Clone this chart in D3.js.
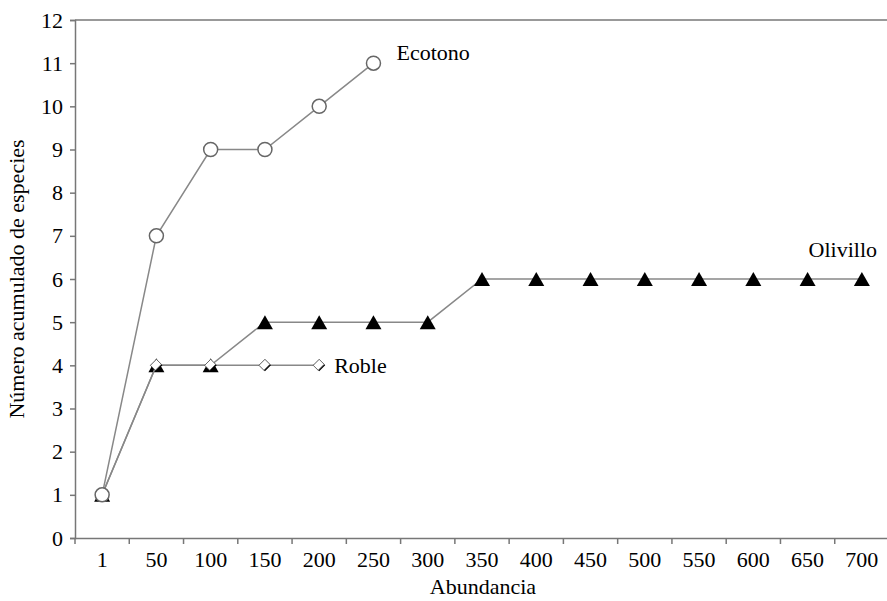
<!DOCTYPE html>
<html>
<head>
<meta charset="utf-8">
<script src="https://cdn.jsdelivr.net/npm/d3@7"></script>
<style>
body{margin:0;background:#fff;}
svg text{font-family:"Liberation Serif","DejaVu Serif",serif;fill:#000;}
</style>
</head>
<body>
<div id="chart"></div>
<script>
// categories on the x axis
var abundancia = ["1","50","100","150","200","250","300","350","400","450","500","550","600","650","700"];
var yTicks = [0,1,2,3,4,5,6,7,8,9,10,11,12];

var ecotono = [1,7,9,9,10,11];
var roble = [1,4,4,4,4];
var olivillo = [1,4,4,5,5,5,5,6,6,6,6,6,6,6,6];

var width = 887, height = 601;
var margin = {top: 20, right: -2, bottom: 63, left: 75};
var fs = "22px";

var svg = d3.select("#chart").append("svg")
    .attr("width", width)
    .attr("height", height);

var x = d3.scaleBand().domain(abundancia).range([margin.left, width - margin.right]);
var y = d3.scaleLinear().domain([0,12]).range([height - margin.bottom, margin.top]);

var axisColor = "#777";
var lineColor = "#888";

// top border
svg.append("line")
    .attr("x1", margin.left).attr("x2", width)
    .attr("y1", y(12)).attr("y2", y(12))
    .attr("stroke", axisColor).attr("stroke-width", 1.5);

// y axis
var yAxis = svg.append("g")
    .attr("transform", "translate(" + margin.left + ",0)")
    .call(d3.axisLeft(y).tickValues(yTicks).tickSize(5).tickPadding(7));
yAxis.selectAll("text").style("font-size", fs);

// x axis
var xAxis = svg.append("g")
    .attr("transform", "translate(0," + y(0) + ")")
    .call(d3.axisBottom(x).tickSize(0).tickPadding(13));
xAxis.selectAll("text").style("font-size", fs);
// tick marks between categories
xAxis.selectAll(".sep")
    .data(abundancia)
    .enter().append("line")
    .attr("class", "sep")
    .attr("x1", function(d){ return x(d); })
    .attr("x2", function(d){ return x(d); })
    .attr("y1", 0).attr("y2", 6)
    .attr("stroke", axisColor).attr("stroke-width", 1.5);

svg.selectAll(".domain").attr("stroke", axisColor).attr("stroke-width", 1.5);
yAxis.selectAll(".tick line").attr("stroke", axisColor).attr("stroke-width", 1.5);

var line = d3.line()
    .x(function(d, i){ return x(abundancia[i]) + x.bandwidth()/2; })
    .y(function(d){ return y(d); });

function cx(i){ return x(abundancia[i]) + x.bandwidth()/2; }

// Olivillo
svg.append("path").datum(olivillo)
    .attr("d", line).attr("fill", "none")
    .attr("stroke", lineColor).attr("stroke-width", 1.5);
svg.selectAll(".tri").data(olivillo).enter().append("path")
    .attr("class", "tri")
    .attr("transform", function(d, i){ return "translate(" + cx(i) + "," + (y(d) + 1) + ")"; })
    .attr("d", "M0,-8L8,6L-8,6Z")
    .attr("fill", "#000");

// Roble
svg.append("path").datum(roble)
    .attr("d", line).attr("fill", "none")
    .attr("stroke", lineColor).attr("stroke-width", 1.5);
var rob = svg.selectAll(".dia").data(roble).enter().append("g")
    .attr("class", "dia")
    .attr("transform", function(d, i){ return "translate(" + cx(i) + "," + y(d) + ")"; });
rob.append("path").attr("d", "M0,-6L6,0L0,6L-6,0Z").attr("fill", "#000");
rob.append("path").attr("d", "M0,-6L5,-1L-1,5L-6,0Z")
    .attr("fill", "#fff").attr("stroke", "#555").attr("stroke-width", 0.8);

// Ecotono
svg.append("path").datum(ecotono)
    .attr("d", line).attr("fill", "none")
    .attr("stroke", lineColor).attr("stroke-width", 1.5);
svg.selectAll(".circ").data(ecotono).enter().append("circle")
    .attr("class", "circ")
    .attr("cx", function(d, i){ return cx(i); })
    .attr("cy", function(d){ return y(d); })
    .attr("r", 7)
    .attr("fill", "#fff")
    .attr("stroke", "#666").attr("stroke-width", 1.5);

// series labels
svg.append("text").attr("x", cx(5) + 23).attr("y", y(11) - 3).style("font-size", fs).text("Ecotono");
svg.append("text").attr("x", cx(4) + 15).attr("y", y(4) + 8).style("font-size", fs).text("Roble");
svg.append("text").attr("x", 877).attr("y", y(6) - 22).attr("text-anchor", "end").style("font-size", fs).text("Olivillo");

// axis titles
svg.append("text")
    .attr("transform", "translate(24," + ((y(0) + y(12)) / 2) + ")rotate(-90)")
    .attr("text-anchor", "middle")
    .style("font-size", fs)
    .text("Número acumulado de especies");
svg.append("text")
    .attr("x", 483).attr("y", 594)
    .attr("text-anchor", "middle")
    .style("font-size", fs)
    .text("Abundancia");
</script>
</body>
</html>
